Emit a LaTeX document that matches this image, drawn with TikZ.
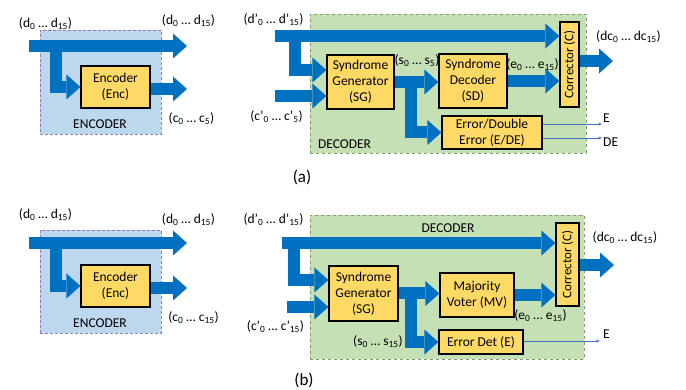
\documentclass[tikz,border=0pt]{standalone}
\usepackage{fontspec}
\setmainfont{Carlito}
\usetikzlibrary{arrows.meta}
\definecolor{busblue}{HTML}{0070C0}
\definecolor{boxyellow}{HTML}{FFD966}
\definecolor{decgreen}{HTML}{C5E0B4}
\definecolor{encblue}{HTML}{BDD7EE}
\definecolor{encedge}{HTML}{8E7CC3}
\definecolor{decedge}{HTML}{7F9F6A}
\definecolor{thinblue}{HTML}{4472C4}
\newcommand\sub[1]{\textsubscript{#1}}
\begin{document}
\begin{tikzpicture}[x=1pt,y=-1pt,
  bus/.style={line width=12pt, draw=busblue, line join=miter,
    -{Triangle[length=14pt,width=25pt,line width=0pt]}},
  thinarrow/.style={draw=thinblue, line width=0.7pt, -{Stealth[length=4pt,width=3pt]}},
  blk/.style={draw=black, line width=1.2pt, fill=boxyellow, align=center,
    inner sep=0pt, font=\fontsize{13.5}{16}\selectfont},
  encbox/.style={draw=encedge, densely dashed, line width=0.6pt, fill=encblue, inner sep=0pt},
  decbox/.style={draw=decedge, dashed, line width=0.7pt, fill=decgreen, inner sep=0pt},
  lbl/.style={inner sep=0pt, font=\fontsize{13.5}{16}\selectfont},
  capt/.style={inner sep=0pt, font=\fontsize{13.5}{16}\selectfont},
  vtext/.style={inner sep=0pt, rotate=90, font=\fontsize{13}{15}\selectfont},
  tag/.style={inner sep=0pt, font=\fontsize{17}{19}\selectfont}]
\useasboundingbox (0,0) rectangle (686,390);

% ---------------- (a) encoder ----------------
\node[encbox, minimum width=121pt, minimum height=104pt] (EncBoxA) at (100.5,82) {};
\node[blk, minimum width=69pt, minimum height=42pt] (EncA) at (115.5,87) {Encoder\\(Enc)};
\coordinate (dinA) at (29,46);
\coordinate (doutA) at (187,46);
\coordinate (brEncA) at (56,46);
\coordinate (coutA) at (187,89);
\draw[bus] (dinA) -- (doutA);
\draw[bus] (brEncA) |- (EncA.west);
\draw[bus] (EncA.east |- coutA) -- (coutA);
\node[blk, minimum width=69pt, minimum height=42pt] at (EncA) {Encoder\\(Enc)};
\node[lbl] (dInLabA) at (45.5,24) {(d\sub{0} … d\sub{15})};
\node[lbl] (dOutLabA) at (188.5,21) {(d\sub{0} … d\sub{15})};
\node[lbl] (cOutLabA) at (191.5,119) {(c\sub{0} … c\sub{5})};
\node[capt] (EncCapA) at (100,124) {ENCODER};

% ---------------- (a) decoder ----------------
\node[decbox, minimum width=276pt, minimum height=139pt] (DecBoxA) at (448,83.5) {};
\node[blk, minimum width=67pt, minimum height=54pt] (SGa) at (360.5,82) {Syndrome\\Generator\\(SG)};
\node[blk, minimum width=68pt, minimum height=54pt] (SDa) at (473,81) {Syndrome\\Decoder\\(SD)};
\node[blk, minimum width=19pt, minimum height=85pt] (CA) at (569.5,64.5) {};
\node[blk, minimum width=100pt, minimum height=33pt] (EDEa) at (492,132.5) {Error/Double\\Error (E/DE)};
\coordinate (dpinA) at (275,36);
\coordinate (brDecA) at (294.5,36);
\coordinate (cpinA) at (275,96);
\coordinate (brSynA) at (411,82);
\coordinate (dcoutA) at (613,61);
\draw[bus] (dpinA) -- (CA.west |- dpinA);
\draw[bus] (brDecA) |- ([yshift=12pt]SGa.west);
\draw[bus] (cpinA) -- ([yshift=-14pt]SGa.west);
\draw[bus] (SGa.east) -- (SDa.west |- SGa.east);
\draw[bus] (brSynA) |- (EDEa.west);
\draw[bus] (SDa.east) -- (CA.west |- SDa.east);
\draw[bus] (CA.east |- dcoutA) -- (dcoutA);
% boxes redrawn above the bus ends
\node[blk, minimum width=67pt, minimum height=54pt] at (SGa) {Syndrome\\Generator\\(SG)};
\node[blk, minimum width=68pt, minimum height=54pt] at (SDa) {Syndrome\\Decoder\\(SD)};
\node[blk, minimum width=19pt, minimum height=85pt] at (CA) {};
\node[blk, minimum width=100pt, minimum height=33pt] at (EDEa) {Error/Double\\Error (E/DE)};
\node[vtext] (CtxtA) at (CA) {Corrector (C)};
\node[lbl, anchor=west] (ElabA) at (603,118) {E};
\node[lbl, anchor=west] (DElabA) at (603,142) {DE};
\coordinate (EendA) at (602,124);
\coordinate (DEendA) at (602,138);
\draw[thinarrow] (EDEa.east |- EendA) -- (EendA);
\draw[thinarrow] (EDEa.east |- DEendA) -- (DEendA);
\node[lbl] (dpLabA) at (273.5,20) {(d’\sub{0} … d’\sub{15})};
\node[lbl] (cpLabA) at (276.5,117) {(c’\sub{0} … c’\sub{5})};
\node[lbl] (sLabA) at (417,61) {(s\sub{0} … s\sub{5})};
\node[lbl] (eLabA) at (532.5,65) {(e\sub{0} … e\sub{15})};
\node[lbl] (dcLabA) at (628.5,37) {(dc\sub{0} … dc\sub{15})};
\node[capt] (DecCapA) at (344.5,144) {DECODER};
\node[tag] (tagA) at (302,177) {(a)};

% ---------------- (b) encoder ----------------
\node[encbox, minimum width=121pt, minimum height=103pt] (EncBoxB) at (100.5,281.5) {};
\node[blk, minimum width=69pt, minimum height=42pt] (EncB) at (115.5,286) {Encoder\\(Enc)};
\coordinate (dinB) at (29,243);
\coordinate (doutB) at (187,243);
\coordinate (brEncB) at (56,243);
\coordinate (coutB) at (187,288);
\draw[bus] (dinB) -- (doutB);
\draw[bus] (brEncB) |- (EncB.west);
\draw[bus] (EncB.east |- coutB) -- (coutB);
\node[blk, minimum width=69pt, minimum height=42pt] at (EncB) {Encoder\\(Enc)};
\node[lbl] (dInLabB) at (45.5,215) {(d\sub{0} … d\sub{15})};
\node[lbl] (dOutLabB) at (188.5,220) {(d\sub{0} … d\sub{15})};
\node[lbl] (cOutLabB) at (193.5,318) {(c\sub{0} … c\sub{15})};
\node[capt] (EncCapB) at (100,323) {ENCODER};

% ---------------- (b) decoder ----------------
\node[decbox, minimum width=274pt, minimum height=144pt] (DecBoxB) at (447,287) {};
\node[blk, minimum width=69pt, minimum height=55pt] (SGb) at (363.5,293.5) {Syndrome\\Generator\\(SG)};
\node[blk, minimum width=74pt, minimum height=44pt] (MVb) at (477,295) {Majority\\Voter (MV)};
\node[blk, minimum width=23pt, minimum height=83pt] (CB) at (567.5,264.5) {};
\node[blk, minimum width=84pt, minimum height=24pt] (EDb) at (481,342) {Error Det (E)};
\coordinate (dpinB) at (282,243);
\coordinate (brDecB) at (294,243);
\coordinate (cpinB) at (287,307);
\coordinate (brSynB) at (411,293.5);
\coordinate (dcoutB) at (614,265);
\draw[bus] (dpinB) -- (CB.west |- dpinB);
\draw[bus] (brDecB) |- ([yshift=13.5pt]SGb.west);
\draw[bus] (cpinB) -- ([yshift=-13.5pt]SGb.west);
\draw[bus] (SGb.east) -- (MVb.west |- SGb.east);
\draw[bus] (brSynB) |- (EDb.west);
\draw[bus] (MVb.east) -- (CB.west |- MVb.east);
\draw[bus] (CB.east |- dcoutB) -- (dcoutB);
\node[blk, minimum width=69pt, minimum height=55pt] at (SGb) {Syndrome\\Generator\\(SG)};
\node[blk, minimum width=74pt, minimum height=44pt] at (MVb) {Majority\\Voter (MV)};
\node[blk, minimum width=23pt, minimum height=83pt] at (CB) {};
\node[blk, minimum width=84pt, minimum height=24pt] at (EDb) {Error Det (E)};
\node[vtext] (CtxtB) at (CB) {Corrector (C)};
\node[lbl, anchor=west] (ElabB) at (603,334) {E};
\coordinate (EendB) at (600,341);
\draw[thinarrow] (EDb.east |- EendB) -- (EendB);
\node[lbl] (dpLabB) at (273.5,220) {(d’\sub{0} … d’\sub{15})};
\node[lbl] (cpLabB) at (275.5,327) {(c’\sub{0} … c’\sub{15})};
\node[lbl] (sLabB) at (378,342) {(s\sub{0} … s\sub{15})};
\node[lbl] (eLabB) at (540.5,316) {(e\sub{0} … e\sub{15})};
\node[lbl] (dcLabB) at (625,238) {(dc\sub{0} … dc\sub{15})};
\node[capt] (DecCapB) at (448,228) {DECODER};
\node[tag] (tagB) at (304,380) {(b)};
\end{tikzpicture}
\end{document}
